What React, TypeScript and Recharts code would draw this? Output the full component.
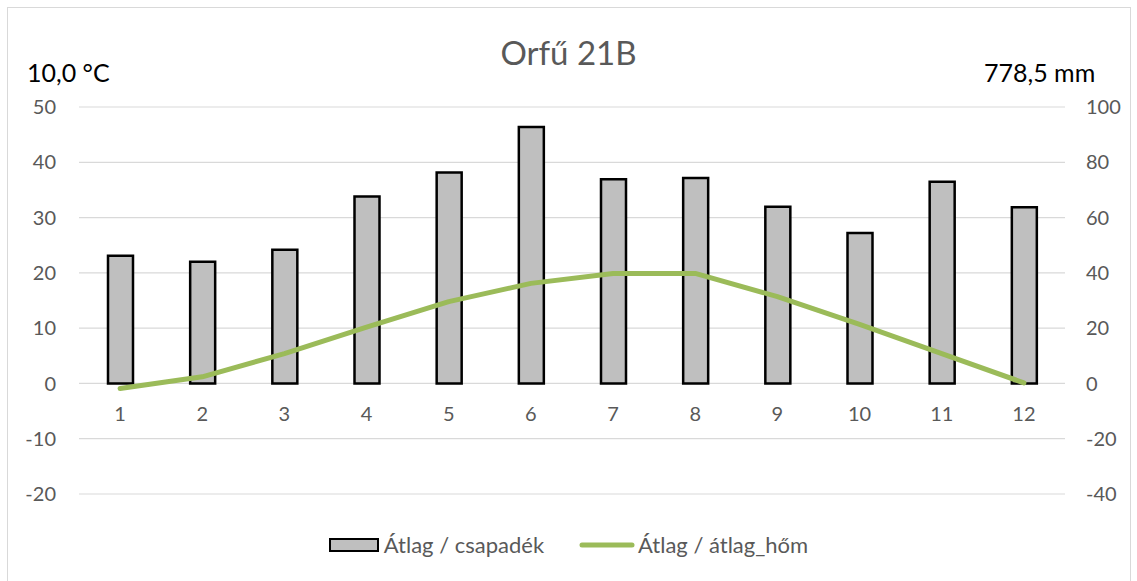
import { ComposedChart, Bar, Line, XAxis, YAxis, CartesianGrid } from "recharts";

// months on the category axis
const months = ["1", "2", "3", "4", "5", "6", "7", "8", "9", "10", "11", "12"];
// monthly precipitation, mm (right axis)
const precip = [46.2, 44.0, 48.4, 67.6, 76.3, 92.8, 73.9, 74.3, 63.9, 54.4, 73.0, 63.7];
// monthly mean temperature, °C (left axis)
const temp = [-0.9, 1.2, 5.4, 10.2, 14.8, 18.1, 19.9, 19.9, 15.7, 10.7, 5.4, 0.1];

const leftTicks = [-20, -10, 0, 10, 20, 30, 40, 50];
const rightTicks = [-40, -20, 0, 20, 40, 60, 80, 100];

const W = 1137;
const H = 581;
const TOP = 107;
const BOTTOM = 87;
const XAXIS_H = 30;
const FONT = "Lato, 'Open Sans', sans-serif";
const GREY_TEXT = "#595959";

const data = months.map((m, i) => ({ month: m, csapadek: precip[i], hom: temp[i] }));

// x labels sit under the zero line, not at the bottom of the plot
function MonthTick(props: any) {
  const { x, y, payload } = props;
  const plotH = H - TOP - BOTTOM;
  const zeroY = TOP + plotH * (50 / 70);
  return (
    <text x={x} y={y - (TOP + plotH - zeroY) + 30} textAnchor="middle" dominantBaseline="central"
      fontSize={20} fill={GREY_TEXT} fontFamily={FONT}>
      {payload.value}
    </text>
  );
}

function LegendBox() {
  return (
    <div style={{ display: "flex", justifyContent: "center", alignItems: "center", fontFamily: FONT, fontSize: 22, color: GREY_TEXT }}>
      <svg width={51} height={16} style={{ marginRight: 4 }}>
        <rect x={1} y={2} width={48} height={12} fill="#BFBFBF" stroke="#000" strokeWidth={2} />
      </svg>
      <span style={{ marginRight: 35 }}>Átlag / csapadék</span>
      <svg width={56} height={16} style={{ marginRight: 3 }}>
        <line x1={3} y1={8} x2={53} y2={8} stroke="#9BBB59" strokeWidth={5} strokeLinecap="round" />
      </svg>
      <span>Átlag / átlag_hőm</span>
    </div>
  );
}

export default function App() {
  return (
    <div style={{ position: "absolute", left: 0, top: 0, width: W, height: H, background: "#fff", fontFamily: FONT }}>
      <div style={{ position: "absolute", left: 7, top: 7, width: 1124, height: 580, border: "1.5px solid #D9D9D9", boxSizing: "border-box" }} />
      <div style={{ position: "absolute", left: 0, width: W, top: 32, textAlign: "center", fontSize: 33, color: GREY_TEXT, lineHeight: "40px" }}>
        Orfű 21B
      </div>
      <div style={{ position: "absolute", left: 27, top: 56, fontSize: 25, color: "#000", lineHeight: "32px" }}>10,0 °C</div>
      <div style={{ position: "absolute", left: 984, top: 56, fontSize: 25, color: "#000", lineHeight: "32px" }}>778,5 mm</div>
      <div style={{ position: "absolute", left: 0, top: 0 }}>
        <ComposedChart width={W} height={H} data={data} margin={{ top: TOP, right: 0, bottom: BOTTOM - XAXIS_H, left: 0 }} barCategoryGap={0}>
          <CartesianGrid yAxisId="left" vertical={false} stroke="#D9D9D9" strokeWidth={1.2} />
          <XAxis dataKey="month" axisLine={false} tickLine={false} tickSize={0} tickMargin={0} height={XAXIS_H} tick={<MonthTick />} interval={0} />
          <YAxis yAxisId="left" orientation="left" width={79} domain={[-20, 50]} ticks={leftTicks} axisLine={false} tickLine={false}
            tickSize={0} tickMargin={23} tick={{ fontSize: 20, fill: GREY_TEXT, fontFamily: FONT }} interval={0} />
          <YAxis yAxisId="right" orientation="right" width={72} domain={[-40, 100]} ticks={rightTicks} axisLine={false} tickLine={false}
            tickSize={0} tickMargin={21} tick={{ fontSize: 20, fill: GREY_TEXT, fontFamily: FONT, textAnchor: "start" }} interval={0} />
          <Bar yAxisId="right" dataKey="csapadek" name="Átlag / csapadék" barSize={25} fill="#BFBFBF" stroke="#000" strokeWidth={2.5} isAnimationActive={false} />
          <Line yAxisId="left" dataKey="hom" name="Átlag / átlag_hőm" type="linear" stroke="#9BBB59" strokeWidth={5} dot={false} activeDot={false} strokeLinecap="round" strokeLinejoin="round" isAnimationActive={false} />
        </ComposedChart>
      </div>
      <div style={{ position: "absolute", left: 0, top: 531, width: W }}>
        <LegendBox />
      </div>
    </div>
  );
}
